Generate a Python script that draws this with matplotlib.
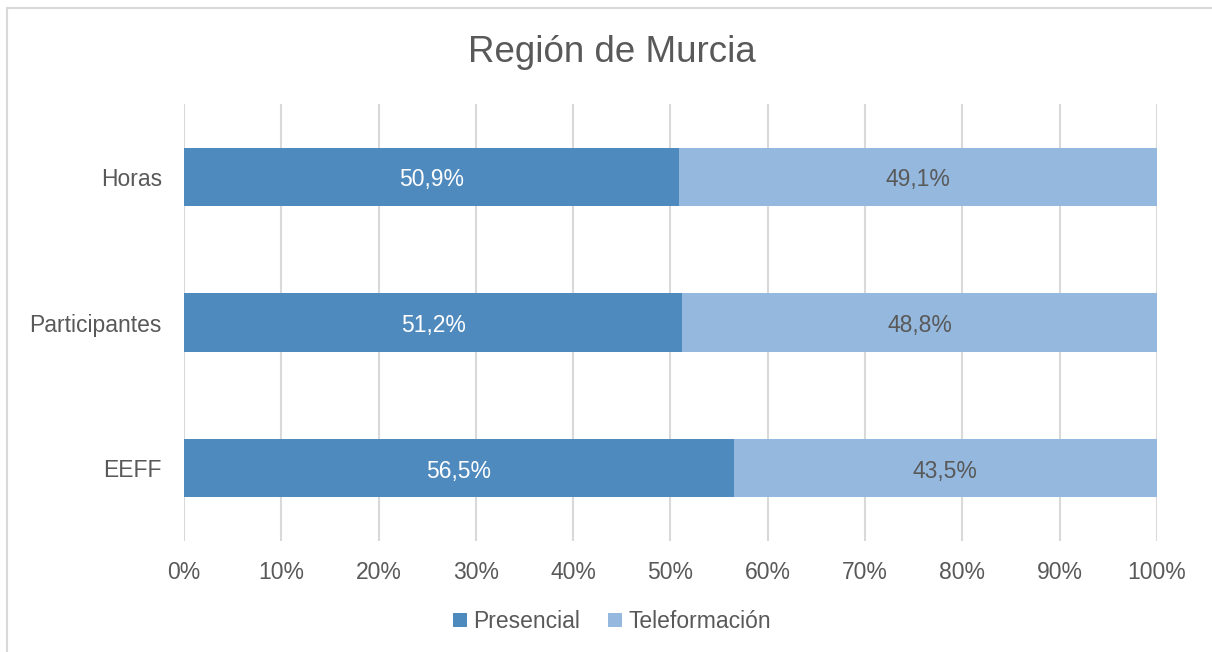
import matplotlib
matplotlib.use("Agg")
import matplotlib.pyplot as plt
from matplotlib.ticker import FuncFormatter

plt.rcParams['font.family'] = ['Liberation Sans', 'DejaVu Sans']

categories = ["EEFF", "Participantes", "Horas"]
presencial = [56.5, 51.2, 50.9]
teleformacion = [43.5, 48.8, 49.1]
xticks = [0, 10, 20, 30, 40, 50, 60, 70, 80, 90, 100]

c_dark = "#4F8ABE"
c_light = "#95B8DF"
grey = "#595959"

fig = plt.figure(figsize=(12.12, 6.52), dpi=100)
ax = fig.add_axes([0.1518, 0.170, 0.8028, 0.6705])

y = range(len(categories))
b1 = ax.barh(y, presencial, height=0.4, color=c_dark, label="Presencial", zorder=3)
b2 = ax.barh(y, teleformacion, left=presencial, height=0.4, color=c_light,
             label="Teleformación", zorder=3)

# value labels, centred a touch below the bar middle like the original
for bars, vals, col in [(b1, presencial, "white"), (b2, teleformacion, grey)]:
    for rect, v in zip(bars, vals):
        ax.text(rect.get_x() + rect.get_width() / 2, rect.get_y() + rect.get_height() / 2 - 0.02,
                f"{v:.1f}%".replace(".", ","), ha="center", va="center",
                color=col, fontsize=16.5, zorder=4)

ax.set_xlim(0, 100)
ax.set_ylim(-0.5, len(categories) - 0.5)
ax.set_xticks(xticks)
ax.xaxis.set_major_formatter(FuncFormatter(lambda v, p: f"{v:.0f}%"))
ax.set_yticks(list(y))
ax.set_yticklabels(categories)
ax.tick_params(axis="both", length=0, labelsize=16.5, labelcolor=grey)
ax.tick_params(axis="x", pad=14)
ax.tick_params(axis="y", pad=16)
ax.grid(axis="x", color="#D9D9D9", linewidth=1.5, zorder=0)
for s in ax.spines.values():
    s.set_visible(False)

fig.text(0.505, 0.919, "Región de Murcia", ha="center", va="center",
         fontsize=26.5, color=grey)

leg = fig.legend(handles=[b1, b2], loc="center", bbox_to_anchor=(0.505, 0.047),
                 ncol=2, frameon=False, fontsize=16.5, handlelength=0.6,
                 handleheight=0.6, handletextpad=0.3, columnspacing=1.2)
for t in leg.get_texts():
    t.set_color(grey)

# outer border (top and left only visible in the crop)
fig.add_artist(plt.Line2D([0.006, 1], [0.988, 0.988], color="#D9D9D9", lw=1.5,
                          transform=fig.transFigure))
fig.add_artist(plt.Line2D([0.006, 0.006], [0, 0.988], color="#D9D9D9", lw=1.5,
                          transform=fig.transFigure))

fig.savefig("out.png", dpi=100)
